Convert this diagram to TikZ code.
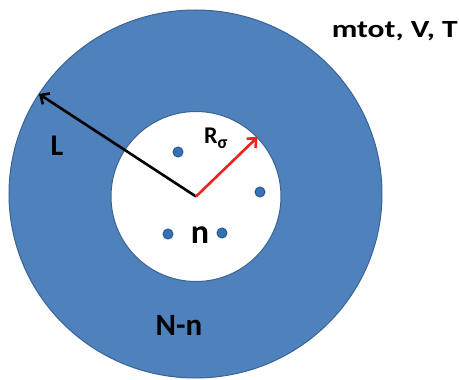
\documentclass[tikz,border=0pt]{standalone}
\usepackage{fontspec}
\usepackage{graphicx}
\setmainfont{Carlito}
\usetikzlibrary{arrows.meta,shapes.geometric}
\definecolor{ringblue}{HTML}{4F81BD}
\definecolor{ringedge}{HTML}{3A6494}
\definecolor{dotblue}{HTML}{3472B5}
\definecolor{dotedge}{HTML}{2A5A8E}
\definecolor{arrowred}{HTML}{F0221E}
\tikzset{
  lbl/.style={text=black, inner sep=0pt},
  particle/.style={circle, fill=dotblue, draw=dotedge, line width=1pt, minimum size=10pt, inner sep=0pt},
  radius arrow/.style={line width=2.6pt, -{Straight Barb[length=7pt,width=13pt,line width=2.6pt]}}
}
\begin{document}
\begin{tikzpicture}[x=1pt,y=-1pt]
\useasboundingbox (0,0) rectangle (459,380);
\fill[white] (0,0) rectangle (459,380);
\node[ellipse, fill=ringblue, draw=ringedge, line width=1pt, minimum width=373pt, minimum height=368pt, inner sep=0pt] (outer) at (195.5,194) {};
\node[circle, fill=white, draw=ringedge, line width=1pt, minimum size=170pt, inner sep=0pt] (inner) at (196,196.5) {};
\coordinate (c) at (196,196.5);
\draw[radius arrow, black] (c) -- (39,94);
\draw[radius arrow, arrowred] (c) -- (inner.44);
\node[particle] (p1) at (178,152) {};
\node[particle] (p2) at (260,192) {};
\node[particle] (p3) at (168,234) {};
\node[particle] (p4) at (222,233) {};
\node[lbl, font=\bfseries\fontsize{30}{30}\selectfont, anchor=base] (L) at (57,155.5) {L};
\node[lbl, font=\bfseries\fontsize{31}{31}\selectfont, anchor=base] (Nn) at (179,335) {N-n};
\node[lbl, font=\bfseries\fontsize{34}{34}\selectfont, anchor=base] (n) at (200,243.3) {n};
\node[lbl, font=\bfseries\fontsize{24}{24}\selectfont, anchor=base west] (R) at (204,143.3) {R\raisebox{-5pt}{\fontsize{18}{18}\selectfont σ}};
\node[lbl, font=\bfseries\fontsize{26}{26}\selectfont, anchor=base east] (m) at (458,37.3) {\resizebox{126pt}{16pt}{mtot, V, T}};
\end{tikzpicture}
\end{document}
